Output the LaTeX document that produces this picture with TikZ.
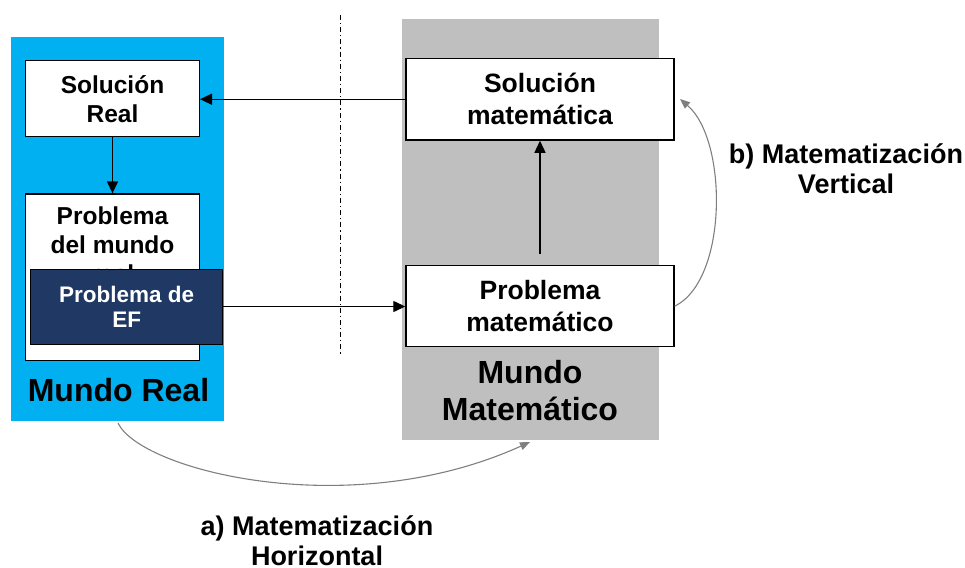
\documentclass[tikz,border=0pt]{standalone}
\usepackage{fontspec}
\setmainfont{Liberation Sans}
\usetikzlibrary{arrows.meta,calc}
\definecolor{realblue}{HTML}{00B0F0}
\definecolor{mathgray}{HTML}{BFBFBF}
\definecolor{navyef}{HTML}{1F3864}
\definecolor{curvegray}{HTML}{7F7F7F}
\begin{document}
\begin{tikzpicture}[x=1pt,y=-1pt,
  box/.style={draw=black, line width=1.4pt, fill=white, inner sep=0pt, align=center},
  ltext/.style={font=\bfseries\fontsize{24.5}{29}\selectfont},
  rtext/.style={font=\bfseries\fontsize{26.5}{32}\selectfont},
  arr/.style={draw=black, line width=1.3pt, -{Triangle[length=12pt,width=11pt]}},
  garr/.style={draw=curvegray, line width=1.1pt, -{Triangle[length=10pt,width=8pt]}},
  lbl/.style={font=\bfseries\fontsize{27}{30}\selectfont, align=center, inner sep=0pt},
  world/.style={font=\bfseries\fontsize{32}{37.5}\selectfont, align=center, inner sep=0pt}
]
\useasboundingbox (0,0) rectangle (965,567);
% backgrounds
\fill[realblue] (11,37) rectangle (224,421);
\fill[mathgray] (402,19) rectangle (659,440);
\draw[line width=1pt, dash pattern=on 5pt off 3pt on 1.2pt off 3pt] (340,15) -- (340,355);
% left boxes
\node[box, ltext, minimum width=173.6pt, minimum height=76pt] (sr) at (112.5,98.7) {Solución\\Real};
\node[box, minimum width=173.6pt, minimum height=166.7pt] (pdm) at (112.5,277.4) {};
\node[ltext, align=center, inner sep=0pt, anchor=north] (pdmt) at (112.5,207) {Problema\\del mundo\\real};
\node[draw=black, line width=1pt, fill=navyef, text=white, inner sep=0pt, align=center,
      minimum width=192pt, minimum height=75pt,
      font=\bfseries\fontsize{22.5}{25}\selectfont] (ef) at (126.7,306.5) {Problema de\\EF};
% right boxes
\node[box, rtext, minimum width=268pt, minimum height=81.7pt] (sm) at (540,99.2) {Solución\\matemática};
\node[box, rtext, minimum width=268pt, minimum height=81pt] (pm) at (540,306.2) {Problema\\matemático};
% world labels
\node[world, anchor=base] (mr) at (118.5,401.7) {Mundo Real};
\node[world, anchor=base] (mm) at (530,420.7) {Mundo\\Matemático};
% arrows
\draw[arr] (sm.west) -- (sm.west -| sr.east);
\draw[arr] (sr.south) -- (pdm.north);
\draw[arr] (ef.east) -- (ef.east -| pm.west);
\draw[arr, shorten <=11pt] (pm.north) -- (sm.south);
% curved arrows
\coordinate (bend) at (680,99);
\draw[garr] (pm.east) .. controls (728,280) and (728,140) .. (bend);
\coordinate (astart) at (118,423);
\coordinate (aend) at (530,442);
\draw[garr] (astart) .. controls (140,470) and (349,524) .. (aend);
% labels
\node[lbl, anchor=base] (lblb) at (846,193.3) {b) Matematización\\Vertical};
\node[lbl, anchor=base] (lbla) at (317,565) {a) Matematización\\Horizontal};
\end{tikzpicture}
\end{document}
